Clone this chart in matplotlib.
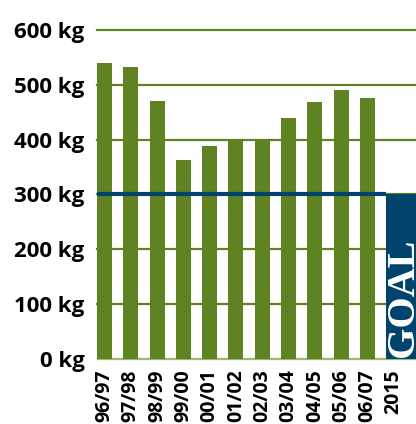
import matplotlib
matplotlib.use("Agg")
import matplotlib.pyplot as plt

# ----- Data -----
seasons = ["96/97", "97/98", "98/99", "99/00", "00/01", "01/02",
           "02/03", "03/04", "04/05", "05/06", "06/07"]
waste_kg = [540, 533, 471, 363, 388, 399, 399, 440, 469, 491, 476]
goal_label = "2015"
goal_kg = 300
y_ticks = [0, 100, 200, 300, 400, 500, 600]

GREEN = "#5f8222"
LIGHT_GREEN = "#9db872"
BLUE = "#00446d"

fig = plt.figure(figsize=(4.16, 4.24), dpi=100)
ax = fig.add_axes([97 / 416, (424 - 361.2) / 424, (416 - 97) / 416, 334.5 / 424])

x = list(range(len(seasons)))
ax.bar(x, waste_kg, width=0.57, color=GREEN, zorder=3)

# goal block
goal_x = len(seasons)
ax.bar(goal_x - 0.285, goal_kg, width=1.3, align="edge", color=BLUE, zorder=3)
ax.text(goal_x + 0.36, 4, "GOAL", rotation=90, color="white", ha="center", va="bottom",
        fontsize=29, fontweight="bold", family="Liberation Serif", zorder=4, clip_on=True)

# gridlines
for v in y_ticks[1:]:
    ax.axhline(v, color=GREEN, lw=1.6, zorder=1, clip_on=False)
ax.axhline(0, color=LIGHT_GREEN, lw=1.6, zorder=1)
ax.plot([-0.285, goal_x - 0.285], [goal_kg, goal_kg], color=BLUE, lw=3, zorder=5,
        solid_capstyle="butt")

ax.set_xlim(-0.285, 11.845)
ax.set_ylim(-4, 606)
ax.set_yticks(y_ticks)
ax.set_yticklabels([f"{v} kg" for v in y_ticks], fontsize=16, fontweight="bold",
                   family="Open Sans")
ax.set_xticks(x + [goal_x])
ax.set_xticklabels(seasons + [goal_label], rotation=90, fontsize=14, fontweight="bold",
                   family="Open Sans", va="top")
ax.tick_params(axis="both", length=0)
ax.tick_params(axis="y", pad=9)
ax.tick_params(axis="x", pad=6)
for s in ax.spines.values():
    s.set_visible(False)

fig.savefig("out.png", dpi=100)
